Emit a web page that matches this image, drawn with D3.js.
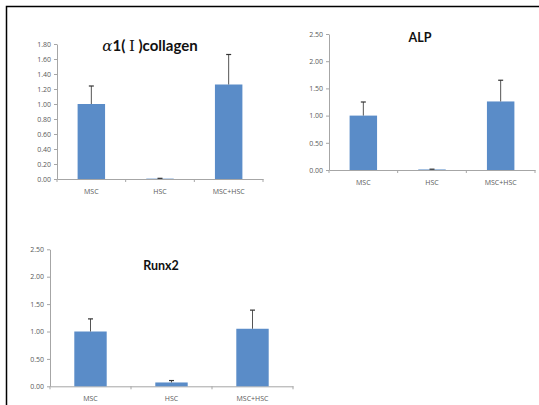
<!DOCTYPE html>
<html>
<head>
    <meta charset="utf-8">
    <style>
        body {
            margin: 0;
            background-color: #FFF;
        }
        svg { display: block; }
        .tick text { font-family: "Open Sans", sans-serif; font-size: 7px; fill: #595959; }
        .title { font-family: Lato, "Open Sans", sans-serif; font-weight: bold; fill: #111; }
        .sym { font-family: "DejaVu Serif", serif; font-weight: normal; }
    </style>
</head>
<body>
<div id="chartArea"></div>
<script src="https://cdnjs.cloudflare.com/ajax/libs/d3/7.8.5/d3.min.js"></script>

<script>
    /* -----------------------------------
        data
    ----------------------------------- */
    var categories = ["MSC", "HSC", "MSC+HSC"];

    var collagenMean = [1.00, 0.005, 1.26];
    var collagenErr  = [0.24, 0.004, 0.40];
    var collagenTicks = [0, 0.2, 0.4, 0.6, 0.8, 1.0, 1.2, 1.4, 1.6, 1.8];

    var alpMean = [1.00, 0.01, 1.26];
    var alpErr  = [0.25, 0.005, 0.39];
    var alpTicks = [0, 0.5, 1.0, 1.5, 2.0, 2.5];

    var runx2Mean = [1.00, 0.07, 1.05];
    var runx2Err  = [0.23, 0.035, 0.34];
    var runx2Ticks = [0, 0.5, 1.0, 1.5, 2.0, 2.5];

    /* -----------------------------------
        initialize
    ----------------------------------- */
    var width = 539, height = 405;

    var svg = d3.select("#chartArea").append("svg")
        .attr("width", width)
        .attr("height", height);

    // frame
    svg.append("rect")
        .attr("x", 6.5).attr("y", 6.5)
        .attr("width", width + 10).attr("height", height + 10)
        .attr("fill", "none")
        .attr("stroke", "#000")
        .attr("stroke-width", 1.5);

    /* -----------------------------------
        one panel
    ----------------------------------- */
    var drawPanel = function(p) {
        var x = d3.scaleBand()
            .domain(categories)
            .range([p.left, p.right])
            .paddingInner(0.6)
            .paddingOuter(0.3);

        var y = d3.scaleLinear()
            .domain([0, p.max])
            .range([p.bottom, p.top]);

        var g = svg.append("g");

        // y axis
        var yAxis = g.append("g")
            .attr("transform", "translate(" + p.left + ",0)")
            .call(d3.axisLeft(y).tickValues(p.ticks).tickFormat(d3.format(".2f")).tickSize(3).tickSizeOuter(0));
        yAxis.select(".domain").attr("stroke", "#a6a6a6");
        yAxis.selectAll(".tick line").attr("stroke", "#a6a6a6");
        yAxis.selectAll(".tick text").attr("x", -6);

        // x axis
        var xAxis = g.append("g")
            .attr("transform", "translate(0," + p.bottom + ")")
            .call(d3.axisBottom(x).tickSize(0).tickSizeOuter(0).tickPadding(10));
        xAxis.select(".domain").attr("stroke", "#a6a6a6");

        // category boundary ticks
        var bounds = d3.range(categories.length + 1).map(function(i) {
            return p.left + i * x.step();
        });
        g.selectAll(".bt").data(bounds).enter()
            .append("line")
            .attr("x1", function(d) { return d; })
            .attr("x2", function(d) { return d; })
            .attr("y1", p.bottom)
            .attr("y2", p.bottom + 3)
            .attr("stroke", "#a6a6a6");

        var rows = categories.map(function(c, i) {
            return {cat: c, mean: p.mean[i], err: p.err[i]};
        });

        // bars
        g.selectAll(".bar").data(rows).enter()
            .append("rect")
            .attr("x", function(d) { return x(d.cat); })
            .attr("y", function(d) { return y(d.mean); })
            .attr("width", x.bandwidth())
            .attr("height", function(d) { return y(0) - y(d.mean); })
            .attr("fill", "#5a8cc8");

        // error bars
        g.selectAll(".err").data(rows).enter()
            .append("line")
            .attr("x1", function(d) { return x(d.cat) + x.bandwidth() / 2; })
            .attr("x2", function(d) { return x(d.cat) + x.bandwidth() / 2; })
            .attr("y1", function(d) { return y(d.mean); })
            .attr("y2", function(d) { return y(d.mean + d.err); })
            .attr("stroke", "#555")
            .attr("stroke-width", 1);
        g.selectAll(".cap").data(rows).enter()
            .append("line")
            .attr("x1", function(d) { return x(d.cat) + x.bandwidth() / 2 - 2.5; })
            .attr("x2", function(d) { return x(d.cat) + x.bandwidth() / 2 + 2.5; })
            .attr("y1", function(d) { return y(d.mean + d.err); })
            .attr("y2", function(d) { return y(d.mean + d.err); })
            .attr("stroke", "#333")
            .attr("stroke-width", 1.2);

        // title (parts: [text, isSymbol, italic])
        var t = g.append("text")
            .attr("class", "title")
            .attr("x", p.titleX)
            .attr("y", p.titleY)
            .attr("text-anchor", "middle")
            .style("font-size", p.titleSize + "px");
        p.title.forEach(function(part) {
            var s = t.append("tspan").text(part[0]);
            if (part[1]) s.attr("class", "sym");
            if (part[2]) s.style("font-style", "italic");
        });
    };

    drawPanel({
        left: 57, right: 263, top: 44, bottom: 179, max: 1.8,
        mean: collagenMean, err: collagenErr, ticks: collagenTicks,
        title: [["\u03b1", true, true], ["1( ", false, false], ["\u2160", true, false], [" )collagen", false, false]],
        titleX: 150, titleY: 51, titleSize: 15
    });

    drawPanel({
        left: 329, right: 535, top: 34, bottom: 170, max: 2.5,
        mean: alpMean, err: alpErr, ticks: alpTicks,
        title: [["ALP", false, false]], titleX: 420, titleY: 42, titleSize: 12.5
    });

    drawPanel({
        left: 50, right: 293, top: 249.3, bottom: 386.3, max: 2.5,
        mean: runx2Mean, err: runx2Err, ticks: runx2Ticks,
        title: [["Runx2", false, false]], titleX: 161, titleY: 270, titleSize: 12.5
    });
</script>
</body>
</html>
